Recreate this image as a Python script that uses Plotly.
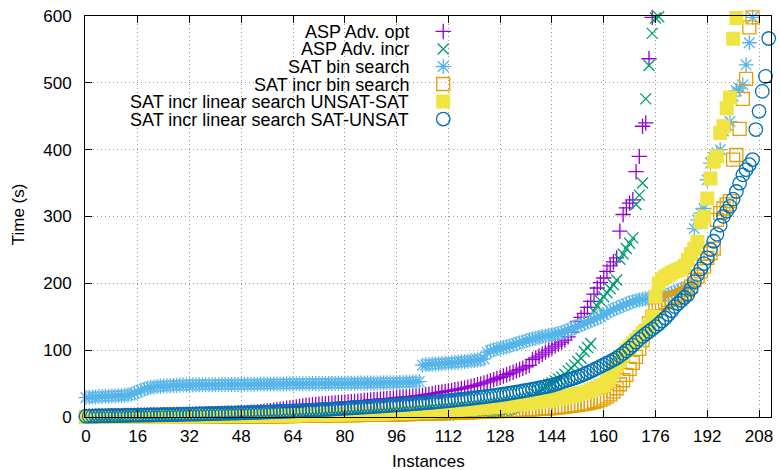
import plotly.graph_objects as go

# ---------------- data ----------------
series_names = [
    "ASP Adv. opt",
    "ASP Adv. incr",
    "SAT bin search",
    "SAT incr bin search",
    "SAT incr linear search UNSAT-SAT",
    "SAT incr linear search SAT-UNSAT",
]

asp_adv_opt = [
    1.0, 1.1, 1.2, 1.3, 1.4, 1.5, 1.6, 1.7, 1.8, 1.9, 2.0, 2.1, 2.2, 2.3, 2.4, 2.5,
    2.6, 2.7, 2.8, 2.9, 3.0, 3.1, 3.2, 3.3, 3.4, 3.5, 3.6, 3.7, 3.8, 3.9, 4.0, 4.1,
    4.2, 4.3, 4.4, 4.5, 4.6, 4.8, 4.9, 5.0, 5.1, 5.3, 5.4, 5.5, 5.7, 5.8, 6.0, 6.1,
    6.3, 6.5, 6.7, 7.0, 7.3, 7.6, 8.0, 8.5, 9.0, 9.6, 10.2, 10.8, 11.5, 12.2, 13.0, 13.7,
    14.4, 15.1, 15.8, 16.5, 17.2, 17.8, 18.3, 18.7, 19.1, 19.5, 19.9, 20.3, 20.7, 21.1, 21.5, 21.8,
    22.2, 22.6, 23.0, 23.4, 23.8, 24.2, 24.6, 25.0, 25.4, 25.8, 26.2, 26.6, 27.0, 27.4, 27.9, 28.3,
    28.8, 29.2, 29.7, 30.1, 30.5, 31.0, 31.4, 31.9, 32.6, 33.4, 34.2, 35.0, 35.8, 36.6, 37.4, 38.2,
    39.0, 39.9, 40.7, 41.6, 42.6, 43.6, 44.7, 45.8, 47.0, 48.2, 49.6, 51.0, 52.6, 54.2, 55.9, 57.7,
    59.5, 61.3, 63.2, 65.1, 67.0, 69.0, 71.0, 73.0, 75.1, 77.2, 86.0, 88.5, 91.0, 94.0, 97.0, 100.0,
    103.0, 106.0, 109.0, 112.0, 115.0, 120.0, 127.0, 134.0, 143.0, 149.0, 155.0, 164.0, 173.0, 184.0, 193.0, 201.0,
    208.0, 218.0, 226.0, 232.0, 238.0, 278.0, 303.0, 313.0, 320.0, 325.0, 367.0, 390.0, 435.0, 440.0, 536.0, 598.0,
]

asp_adv_incr = [
    0.1, 0.1, 0.1, 0.1, 0.1, 0.1, 0.1, 0.1, 0.2, 0.2, 0.2, 0.2, 0.2, 0.2, 0.2, 0.2,
    0.2, 0.2, 0.2, 0.2, 0.2, 0.3, 0.3, 0.3, 0.3, 0.3, 0.3, 0.3, 0.3, 0.3, 0.3, 0.3,
    0.3, 0.3, 0.3, 0.3, 0.4, 0.4, 0.4, 0.4, 0.4, 0.4, 0.4, 0.4, 0.4, 0.4, 0.4, 0.4,
    0.4, 0.4, 0.4, 0.4, 0.4, 0.5, 0.5, 0.5, 0.5, 0.5, 0.5, 0.5, 0.5, 0.5, 0.5, 0.5,
    0.5, 0.5, 0.6, 0.6, 0.6, 0.6, 0.6, 0.7, 0.7, 0.7, 0.7, 0.8, 0.8, 0.8, 0.9, 0.9,
    0.9, 1.0, 1.0, 1.0, 1.1, 1.1, 1.2, 1.2, 1.3, 1.3, 1.4, 1.4, 1.5, 1.5, 1.6, 1.7,
    1.8, 1.9, 2.0, 2.0, 2.1, 2.2, 2.3, 2.4, 2.5, 2.6, 2.7, 2.8, 2.9, 3.0, 3.1, 3.2,
    3.4, 3.6, 3.8, 4.0, 4.2, 4.4, 4.6, 4.8, 5.0, 5.3, 5.6, 5.9, 6.2, 6.6, 7.0, 7.5,
    8.0, 9.0, 10.5, 12.0, 14.0, 16.0, 18.0, 20.0, 22.0, 26.0, 30.0, 34.0, 38.0, 42.0, 46.0, 49.0,
    51.0, 54.0, 57.0, 60.0, 64.0, 69.0, 73.0, 78.0, 83.0, 88.0, 98.0, 104.0, 110.0, 158.0, 166.0, 174.0,
    180.0, 186.0, 192.0, 198.0, 205.0, 236.0, 244.0, 252.0, 260.0, 268.0, 318.0, 332.0, 350.0, 476.0, 526.0, 574.0,
    597.0, 599.0,
]

sat_bin_search = [
    29.0, 29.5, 30.0, 30.0, 30.5, 30.5, 31.0, 31.0, 31.5, 31.5, 32.0, 32.0, 32.5, 33.0, 34.0, 35.5,
    37.5, 40.0, 42.0, 43.5, 44.5, 45.0, 45.5, 46.0, 46.3, 46.6, 46.9, 47.1, 47.3, 47.5, 47.7, 47.9,
    48.0, 48.0, 48.1, 48.1, 48.2, 48.2, 48.3, 48.3, 48.4, 48.4, 48.5, 48.5, 48.6, 48.6, 48.7, 48.8,
    48.9, 48.9, 49.0, 49.0, 49.1, 49.1, 49.2, 49.2, 49.3, 49.3, 49.4, 49.4, 49.5, 49.5, 49.6, 49.6,
    49.7, 49.7, 49.8, 49.8, 49.9, 49.9, 50.0, 50.0, 50.1, 50.1, 50.2, 50.2, 50.3, 50.3, 50.4, 50.4,
    50.5, 50.5, 50.6, 50.6, 50.7, 50.7, 50.8, 50.8, 50.9, 50.9, 51.0, 51.0, 51.1, 51.1, 51.2, 51.2,
    51.3, 51.5, 51.7, 51.9, 52.1, 52.4, 52.7, 53.0, 77.5, 78.0, 78.4, 78.8, 79.2, 79.6, 80.0, 80.4,
    80.8, 81.2, 81.6, 82.0, 82.5, 83.0, 83.5, 84.0, 84.5, 85.2, 86.0, 87.0, 97.0, 99.0, 100.5, 102.0,
    103.0, 104.0, 105.0, 106.5, 108.0, 109.5, 111.0, 112.5, 114.0, 115.5, 117.0, 118.0, 119.0, 120.0, 121.0, 122.0,
    123.0, 124.0, 125.0, 126.5, 128.0, 130.0, 132.0, 134.0, 136.0, 138.0, 140.0, 142.0, 144.0, 146.0, 148.0, 150.0,
    153.0, 156.0, 159.0, 161.0, 163.0, 165.0, 167.0, 169.0, 171.0, 173.0, 174.0, 175.0, 176.0, 177.0, 178.0, 178.5,
    179.0, 180.0, 181.0, 182.0, 183.0, 185.0, 187.0, 189.0, 191.0, 193.0, 195.0, 198.0, 282.0, 295.0, 305.0, 312.0,
    355.0, 380.0, 388.0, 395.0, 400.0, 428.0, 437.0, 442.0, 480.0, 488.0, 492.0, 497.0, 527.0, 560.0, 598.0,
]

sat_incr_bin_search = [
    0.1, 0.1, 0.1, 0.1, 0.1, 0.1, 0.1, 0.1, 0.1, 0.1, 0.1, 0.1, 0.2, 0.2, 0.2, 0.2,
    0.2, 0.2, 0.2, 0.2, 0.2, 0.2, 0.2, 0.2, 0.3, 0.3, 0.3, 0.3, 0.3, 0.3, 0.3, 0.3,
    0.3, 0.3, 0.3, 0.4, 0.4, 0.4, 0.4, 0.4, 0.5, 0.5, 0.5, 0.5, 0.5, 0.6, 0.6, 0.6,
    0.6, 0.7, 0.7, 0.7, 0.8, 0.8, 0.8, 0.9, 0.9, 1.0, 1.0, 1.1, 1.1, 1.2, 1.3, 1.4,
    1.5, 1.6, 1.6, 1.7, 1.8, 1.8, 1.9, 2.0, 2.0, 2.1, 2.2, 2.3, 2.4, 2.4, 2.5, 2.6,
    2.7, 2.8, 2.9, 2.9, 3.0, 3.1, 3.2, 3.3, 3.4, 3.4, 3.5, 3.6, 3.7, 3.8, 3.8, 3.9,
    4.0, 4.1, 4.2, 4.4, 4.5, 4.6, 4.7, 4.8, 4.9, 5.0, 5.2, 5.3, 5.5, 5.6, 5.7, 5.9,
    6.0, 6.2, 6.4, 6.5, 6.7, 6.9, 7.1, 7.3, 7.5, 7.7, 7.9, 8.1, 8.3, 8.5, 8.6, 8.8,
    9.0, 9.2, 9.5, 9.7, 9.9, 10.2, 10.4, 10.7, 10.9, 11.2, 11.5, 11.8, 12.1, 12.4, 12.7, 13.0,
    13.5, 14.0, 14.5, 15.0, 15.6, 16.2, 16.8, 17.4, 18.1, 18.8, 19.6, 20.4, 21.6, 22.8, 24.2, 26.0,
    28.0, 31.0, 34.0, 38.0, 43.0, 49.0, 55.0, 63.0, 72.0, 81.0, 90.0, 102.0, 115.0, 128.0, 140.0, 150.0,
    160.0, 165.0, 170.0, 172.0, 175.0, 177.0, 178.0, 180.0, 182.0, 185.0, 190.0, 195.0, 205.0, 210.0, 218.0, 225.0,
    238.0, 245.0, 252.0, 295.0, 305.0, 312.0, 318.0, 323.0, 385.0, 392.0, 431.0, 476.0, 506.0, 583.0, 598.0,
]

sat_linear_unsat_sat = [
    0.2, 0.2, 0.3, 0.3, 0.3, 0.4, 0.4, 0.4, 0.5, 0.5, 0.5, 0.6, 0.6, 0.6, 0.7, 0.7,
    0.7, 0.7, 0.8, 0.8, 0.8, 0.8, 0.9, 0.9, 0.9, 0.9, 1.0, 1.0, 1.0, 1.0, 1.1, 1.1,
    1.1, 1.2, 1.2, 1.2, 1.3, 1.3, 1.3, 1.4, 1.4, 1.4, 1.5, 1.5, 1.6, 1.6, 1.6, 1.7,
    1.7, 1.8, 1.8, 1.9, 1.9, 2.0, 2.0, 2.1, 2.1, 2.2, 2.2, 2.3, 2.3, 2.4, 2.4, 2.5,
    2.5, 2.6, 2.7, 2.8, 2.9, 3.0, 3.1, 3.2, 3.3, 3.4, 3.5, 3.6, 3.7, 3.8, 3.9, 4.0,
    4.1, 4.2, 4.3, 4.4, 4.5, 4.6, 4.7, 4.8, 4.9, 5.0, 5.1, 5.3, 5.4, 5.6, 5.7, 5.9,
    6.0, 6.2, 6.4, 6.6, 6.8, 7.0, 7.2, 7.5, 7.7, 8.0, 8.2, 8.5, 8.8, 9.1, 9.4, 9.7,
    10.0, 10.3, 10.6, 11.0, 11.3, 11.7, 12.0, 12.4, 12.8, 13.1, 13.5, 13.9, 14.3, 14.7, 15.1, 15.5,
    16.0, 16.5, 17.0, 17.5, 18.0, 18.5, 19.0, 19.5, 20.0, 20.7, 21.4, 22.1, 22.8, 23.5, 24.3, 25.1,
    26.0, 27.0, 28.0, 29.0, 30.0, 31.0, 32.0, 33.2, 34.4, 35.6, 36.8, 38.0, 40.0, 42.0, 44.0, 46.0,
    48.0, 54.0, 60.0, 69.0, 78.0, 85.0, 92.0, 100.0, 104.0, 110.0, 115.0, 120.0, 125.0, 128.0, 136.0, 150.0,
    180.0, 200.0, 206.0, 210.0, 213.0, 216.0, 218.0, 220.0, 222.0, 226.0, 235.0, 244.0, 252.0, 262.0, 292.0, 300.0,
    327.0, 357.0, 382.0, 390.0, 425.0, 435.0, 462.0, 478.0, 566.0, 597.0,
]

sat_linear_sat_unsat = [
    1.2, 1.3, 1.4, 1.5, 1.6, 1.7, 1.8, 1.9, 2.0, 2.0, 2.1, 2.2, 2.3, 2.4, 2.5, 2.5,
    2.6, 2.7, 2.8, 2.9, 3.0, 3.1, 3.2, 3.3, 3.4, 3.5, 3.5, 3.6, 3.7, 3.8, 3.9, 4.0,
    4.1, 4.2, 4.3, 4.5, 4.6, 4.7, 4.9, 5.0, 5.1, 5.2, 5.4, 5.5, 5.6, 5.7, 5.9, 6.0,
    6.1, 6.3, 6.4, 6.6, 6.8, 6.9, 7.1, 7.3, 7.4, 7.6, 7.8, 8.0, 8.2, 8.4, 8.6, 8.8,
    9.0, 9.2, 9.4, 9.7, 9.9, 10.1, 10.4, 10.6, 10.9, 11.1, 11.4, 11.6, 11.9, 12.2, 12.5, 12.8,
    13.0, 13.3, 13.6, 13.9, 14.2, 14.5, 14.8, 15.1, 15.4, 15.7, 16.0, 16.3, 16.7, 17.0, 17.3, 17.7,
    18.0, 18.3, 18.7, 19.0, 19.4, 19.7, 20.1, 20.5, 20.9, 21.3, 21.7, 22.1, 22.5, 23.0, 23.4, 23.8,
    24.3, 24.8, 25.3, 25.8, 26.3, 26.8, 27.3, 27.9, 28.4, 29.0, 29.6, 30.2, 30.8, 31.4, 32.0, 32.7,
    33.4, 34.1, 34.8, 35.6, 36.4, 37.2, 38.0, 38.9, 39.8, 40.7, 41.6, 42.5, 43.4, 44.3, 45.2, 46.2,
    47.3, 48.9, 50.5, 52.2, 54.0, 55.5, 57.0, 58.5, 60.2, 62.0, 64.1, 66.3, 68.5, 70.8, 73.2, 75.6,
    78.0, 80.5, 83.0, 85.6, 88.2, 91.5, 95.0, 99.0, 103.0, 107.5, 112.0, 116.5, 120.5, 124.3, 128.0, 131.6,
    135.2, 139.3, 143.6, 148.1, 153.5, 159.0, 165.2, 169.8, 174.3, 178.8, 183.4, 192.0, 202.5, 213.1, 221.5, 229.6,
    238.2, 250.6, 263.0, 273.4, 286.9, 300.2, 307.8, 315.1, 326.0, 337.4, 349.8, 362.3, 370.0, 377.5, 385.2, 430.1,
    457.4, 487.2, 509.6, 566.3,
]

x_ticks = list(range(0, 209, 16))
y_ticks = [0, 100, 200, 300, 400, 500, 600]

# ---------------- styles ----------------
colors = ["#9400d3", "#009e73", "#56b4e9", "#e69f00", "#f0e442", "#0072b2"]
symbols = ["cross-thin-open", "x-thin-open", "asterisk-open", "square-open", "square", "circle-open"]
sizes = [11, 11, 12.5, 13, 14, 13.5]
all_series = [asp_adv_opt, asp_adv_incr, sat_bin_search, sat_incr_bin_search,
              sat_linear_unsat_sat, sat_linear_sat_unsat]

FONT = "Liberation Sans, Arial, Helvetica, sans-serif"

fig = go.Figure()

for name, vals, col, sym, sz in zip(series_names, all_series, colors, symbols, sizes):
    filled = sym == "square"
    fig.add_trace(go.Scatter(
        x=list(range(len(vals))), y=vals, mode="markers", name=name,
        marker=dict(symbol=sym, size=sz, color=col,
                    line=dict(color=col, width=0 if filled else 1.3)),
        cliponaxis=False, showlegend=False, hoverinfo="skip",
    ))

# ---------------- gnuplot-style key (text right-aligned, sample on the right) ----------------
key_text_x = 0.4734
key_sample_x = 0.5222
key_top = 0.9615
key_step = 0.0437

annotations = []
for k, (name, col, sym, sz) in enumerate(zip(series_names, colors, symbols, sizes)):
    yk = key_top - k * key_step
    annotations.append(dict(
        x=key_text_x, y=yk, xref="paper", yref="paper", text=name, showarrow=False,
        xanchor="right", yanchor="middle", height=17, borderpad=0,
        font=dict(family=FONT, size=18, color="black"),
    ))
    filled = sym == "square"
    fig.add_trace(go.Scatter(
        x=[key_sample_x], y=[yk], xaxis="x2", yaxis="y2", mode="markers",
        marker=dict(symbol=sym, size=sz, color=col,
                    line=dict(color=col, width=0 if filled else 1.3)),
        cliponaxis=False, showlegend=False, hoverinfo="skip",
    ))

annotations.append(dict(x=0.5, y=-0.1117, xref="paper", yref="paper", text="Instances",
                        showarrow=False, xanchor="center", yanchor="middle",
                        font=dict(family=FONT, size=17, color="black")))
annotations.append(dict(x=-0.0974, y=0.506, xref="paper", yref="paper", text="Time (s)",
                        showarrow=False, textangle=-90, xanchor="center", yanchor="middle",
                        font=dict(family=FONT, size=17, color="black")))

axis_common = dict(
    showline=True, linecolor="black", linewidth=1, mirror="ticks",
    ticks="inside", ticklen=7, tickcolor="black", tickwidth=1,
    showgrid=True, gridcolor="#9a9a9a", gridwidth=1, griddash="1px,3px",
    zeroline=False, tickfont=dict(family=FONT, size=17, color="black"),
)

fig.update_layout(
    width=780, height=470,
    margin=dict(l=85, r=7, t=14, b=53),
    paper_bgcolor="white", plot_bgcolor="white",
    showlegend=False,
    xaxis=dict(range=[-0.3, 211.7], tickvals=x_ticks, ticklabelstandoff=4, **axis_common),
    yaxis=dict(range=[0, 600], tickvals=y_ticks, ticklabelstandoff=9, **axis_common),
    xaxis2=dict(overlaying="x", range=[0, 1], visible=False),
    yaxis2=dict(overlaying="y", range=[0, 1], visible=False),
    annotations=annotations,
    shapes=[dict(type="rect", xref="paper", yref="paper", x0=0.002, x1=0.570, y0=0.717, y1=0.997,
                 fillcolor="white", line=dict(width=0), layer="between")],
)

fig.write_html(
    "out.html",
    config={"displayModeBar": False},
    post_script="document.body.style.margin='0';document.body.style.padding='0';",
)
